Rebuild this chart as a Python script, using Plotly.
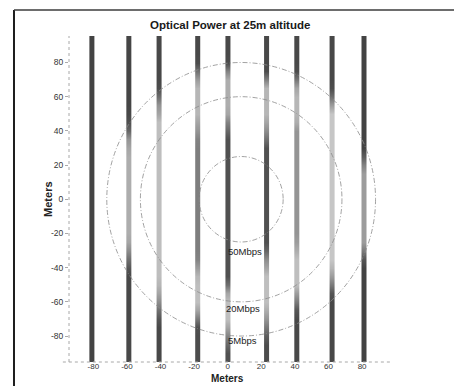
import plotly.graph_objects as go

# ---------------- data ----------------
title_text = "Optical Power at 25m altitude"
axis_title = "Meters"

# measurement track x positions (m)
track_x = [-81, -59, -41, -18, 0, 23, 41, 62, 81]

# sample heights along each track (m)
sample_y = [95, 90, 85, 80, 75, 70, 65, 60, 55, 50, 45, 40, 35, 30, 25, 20, 15, 10, 5, 0,
            -5, -10, -15, -20, -25, -30, -35, -40, -45, -50, -55, -60, -65, -70, -75, -80,
            -85, -90, -95]

# relative shade along each track (0 = dark, 1 = light)
track_1 = [0.05, 0.05, 0.05, 0.05, 0.05, 0.05, 0.05, 0.05, 0.05, 0.05, 0.05, 0.05, 0.05,
           0.05, 0.05, 0.05, 0.05, 0.05, 0.05, 0.05, 0.05, 0.05, 0.05, 0.05, 0.05, 0.05,
           0.05, 0.05, 0.05, 0.05, 0.05, 0.05, 0.05, 0.05, 0.05, 0.05, 0.05, 0.05, 0.05]
track_2 = [0.06, 0.06, 0.06, 0.06, 0.06, 0.06, 0.06, 0.06, 0.06, 0.08, 0.12, 0.25, 0.5,
           0.6, 0.65, 0.65, 0.65, 0.65, 0.65, 0.65, 0.65, 0.65, 0.65, 0.65, 0.6, 0.45,
           0.3, 0.15, 0.08, 0.08, 0.08, 0.08, 0.08, 0.08, 0.08, 0.08, 0.08, 0.08, 0.08]
track_3 = [0.08, 0.08, 0.08, 0.08, 0.08, 0.08, 0.1, 0.3, 0.5, 0.6, 0.75, 0.75, 0.75,
           0.75, 0.75, 0.75, 0.75, 0.75, 0.75, 0.75, 0.75, 0.75, 0.75, 0.75, 0.75, 0.75,
           0.75, 0.75, 0.75, 0.7, 0.6, 0.45, 0.3, 0.15, 0.08, 0.08, 0.08, 0.08, 0.08]
track_4 = [0.08, 0.08, 0.08, 0.1, 0.3, 0.55, 0.7, 0.7, 0.7, 0.7, 0.6, 0.5, 0.4,
           0.38, 0.38, 0.38, 0.38, 0.38, 0.38, 0.38, 0.38, 0.38, 0.38, 0.38, 0.38, 0.38,
           0.4, 0.55, 0.7, 0.75, 0.75, 0.75, 0.6, 0.35, 0.12, 0.1, 0.1, 0.1, 0.1]
track_5 = [0.08, 0.08, 0.08, 0.1, 0.4, 0.65, 0.65, 0.65, 0.65, 0.6, 0.4, 0.25, 0.12,
           0.12, 0.12, 0.12, 0.12, 0.12, 0.12, 0.12, 0.12, 0.12, 0.12, 0.12, 0.12, 0.12,
           0.12, 0.12, 0.12, 0.3, 0.6, 0.75, 0.75, 0.75, 0.6, 0.4, 0.25, 0.12, 0.12]
track_6 = [0.08, 0.08, 0.08, 0.08, 0.1, 0.4, 0.7, 0.7, 0.7, 0.7, 0.6, 0.45, 0.3,
           0.12, 0.12, 0.12, 0.12, 0.12, 0.12, 0.12, 0.12, 0.12, 0.12, 0.12, 0.12, 0.25,
           0.45, 0.6, 0.75, 0.75, 0.75, 0.75, 0.65, 0.5, 0.35, 0.2, 0.1, 0.1, 0.1]
track_7 = [0.08, 0.08, 0.08, 0.08, 0.1, 0.35, 0.6, 0.7, 0.7, 0.7, 0.65, 0.5, 0.5,
           0.5, 0.5, 0.5, 0.5, 0.5, 0.5, 0.5, 0.5, 0.5, 0.5, 0.5, 0.55, 0.65,
           0.75, 0.75, 0.75, 0.75, 0.55, 0.35, 0.15, 0.08, 0.08, 0.08, 0.08, 0.08, 0.08]
track_8 = [0.08, 0.08, 0.08, 0.08, 0.08, 0.08, 0.1, 0.3, 0.55, 0.8, 0.8, 0.8, 0.8,
           0.8, 0.8, 0.8, 0.8, 0.8, 0.8, 0.8, 0.8, 0.8, 0.8, 0.8, 0.8, 0.8,
           0.8, 0.7, 0.55, 0.35, 0.15, 0.08, 0.08, 0.08, 0.08, 0.08, 0.08, 0.08, 0.08]
track_9 = [0.05, 0.05, 0.05, 0.05, 0.05, 0.05, 0.05, 0.05, 0.05, 0.05, 0.05, 0.05, 0.05,
           0.05, 0.2, 0.4, 0.55, 0.55, 0.55, 0.55, 0.55, 0.55, 0.55, 0.55, 0.55, 0.35,
           0.15, 0.05, 0.05, 0.05, 0.05, 0.05, 0.05, 0.05, 0.05, 0.05, 0.05, 0.05, 0.05]
tracks = [track_1, track_2, track_3, track_4, track_5, track_6, track_7, track_8, track_9]

# data-rate contours (centre and radii in metres)
ring_center = [8, 0]
ring_radius = [25, 60, 80]
ring_label = ["50Mbps", "20Mbps", "5Mbps"]
ring_label_x = [10.5, 9, 9]
ring_label_y = [-30.5, -64, -82.5]

tick_vals = [-80, -60, -40, -20, 0, 20, 40, 60, 80]
tick_text = ["-80", "-60", "-40", "-20", "0", "20", "40", "60", "80"]

x_range = [-94.5, 97.8]
y_range = [-95.2, 95.5]

# ---------------- figure ----------------
W, H = 454, 386
ML, MR, MT, MB = 69, 62, 36, 24
plot_h = H - MT - MB
FONT = "Liberation Sans, Arial, sans-serif"
gray_scale = [[0, "#3a3a3a"], [0.5, "#949494"], [1, "#e8e8e8"]]
half_w = 0.68

def paper_y(px):  # pixel row -> paper coordinate
    return (H - MB - px) / plot_h

fig = go.Figure()
for xc, vals in zip(track_x, tracks):
    fig.add_trace(go.Heatmap(
        x=[xc - half_w, xc + half_w], y=sample_y,
        z=[[v, v] for v in vals],
        zmin=0, zmax=1, colorscale=gray_scale, zsmooth="best",
        showscale=False, hoverinfo="skip"))

shapes = []
for r in ring_radius:
    shapes.append(dict(type="circle", xref="x", yref="y",
                       x0=ring_center[0] - r, x1=ring_center[0] + r,
                       y0=ring_center[1] - r, y1=ring_center[1] + r,
                       line=dict(color="#8a8a8a", width=0.8, dash="5px,2px,1px,2px")))

# axis lines (dotted)
shapes.append(dict(type="line", xref="paper", yref="paper", x0=0, x1=0, y0=0, y1=1,
                   line=dict(color="#a8a8a8", width=1, dash="dot")))
shapes.append(dict(type="line", xref="paper", yref="paper", x0=-0.019, x1=1, y0=0, y1=0,
                   line=dict(color="#a8a8a8", width=1, dash="dot")))
# outer frame (left and top)
shapes.append(dict(type="line", xref="paper", yref="paper", x0=-0.1703, x1=-0.1703,
                   y0=paper_y(390), y1=paper_y(10), line=dict(color="#1e1e1e", width=2)))
shapes.append(dict(type="line", xref="paper", yref="paper", x0=-0.1703, x1=1.2,
                   y0=paper_y(10), y1=paper_y(10), line=dict(color="#3c3c3c", width=1.5)))

annotations = []
for lab, lx, ly in zip(ring_label, ring_label_x, ring_label_y):
    annotations.append(dict(x=lx, y=ly, xref="x", yref="y", text=lab, showarrow=False,
                            font=dict(family=FONT, size=9.5, color="#222")))
annotations.append(dict(x=-0.09, y=0.5, xref="paper", yref="paper", text="<b>" + axis_title + "</b>",
                        textangle=-90, showarrow=False,
                        font=dict(family=FONT, size=11, color="#222")))
annotations.append(dict(x=0.49, y=paper_y(386.5), xref="paper", yref="paper",
                        text="<b>" + axis_title + "</b>",
                        showarrow=False, yanchor="bottom",
                        font=dict(family=FONT, size=10, color="#222")))

fig.update_layout(
    width=W, height=H,
    margin=dict(l=ML, r=MR, t=MT, b=MB, autoexpand=False),
    paper_bgcolor="white", plot_bgcolor="white",
    title=dict(text="<b>" + title_text + "</b>", x=0.507, xanchor="center",
               y=1 - 25 / H, yanchor="middle",
               font=dict(family=FONT, size=11.5, color="#1a1a1a")),
    shapes=shapes, annotations=annotations,
    showlegend=False,
)
fig.update_xaxes(range=x_range, tickvals=tick_vals, ticktext=tick_text,
                 showgrid=False, zeroline=False, showline=False,
                 ticks="", ticklabelstandoff=-2, automargin=False,
                 tickfont=dict(family=FONT, size=8, color="#333"))
fig.update_yaxes(range=y_range, tickvals=tick_vals, ticktext=tick_text,
                 showgrid=False, zeroline=False, showline=False,
                 ticks="outside", ticklen=3, tickcolor="#aaa", automargin=False,
                 tickfont=dict(family=FONT, size=8.5, color="#333"))

fig.write_html("out.html", config={"displayModeBar": False},
               post_script="document.body.style.margin='0';document.body.style.overflow='hidden';")
